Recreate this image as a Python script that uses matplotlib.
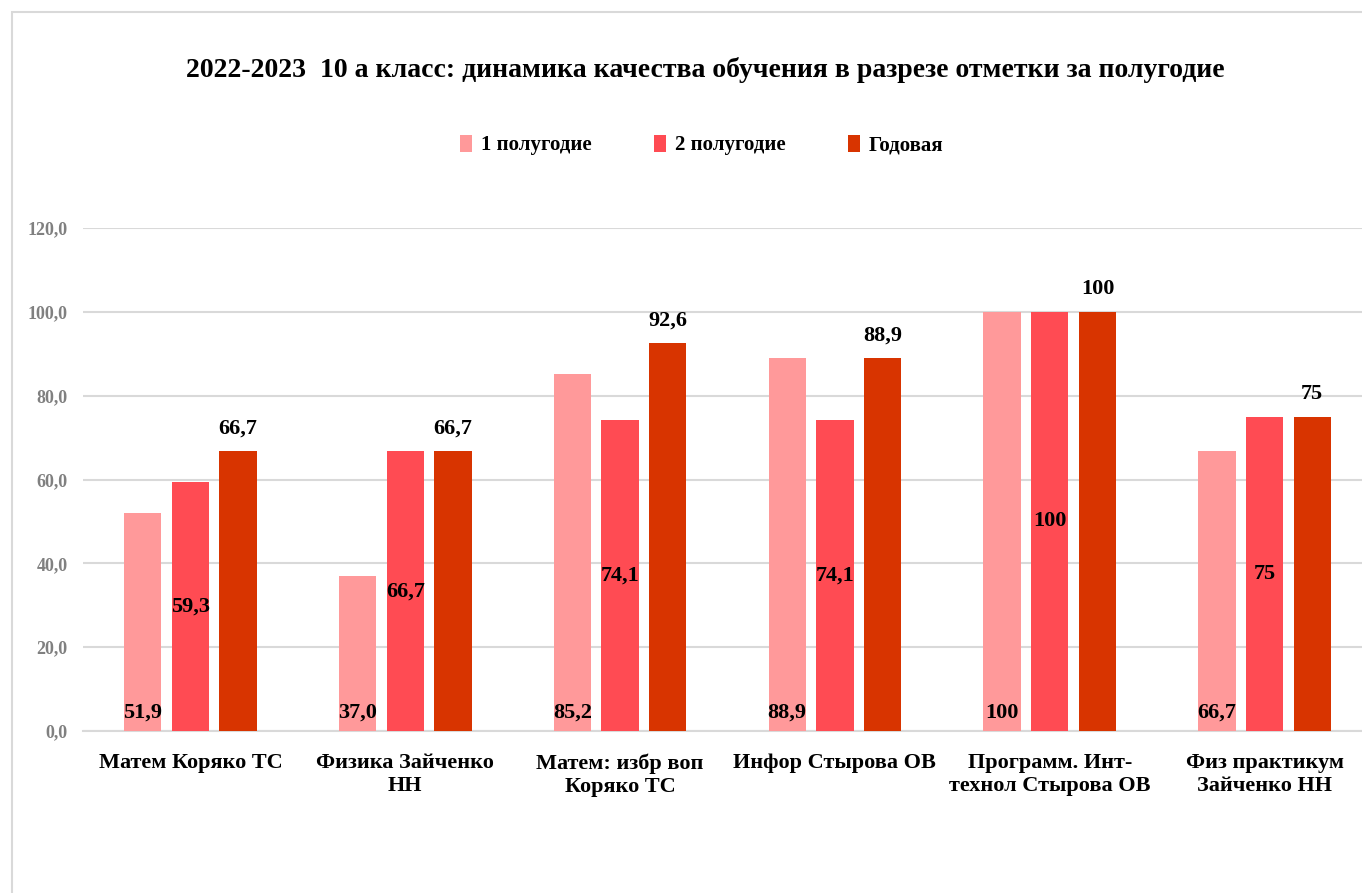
import matplotlib.pyplot as plt
import numpy as np
from matplotlib.patches import Rectangle

plt.rcParams['font.family'] = ['Liberation Serif', 'DejaVu Serif']

# Data
categories = ['Матем Коряко ТС', 'Физика Зайченко\nНН', 'Матем: избр воп\nКоряко ТС',
              'Инфор Стырова ОВ', 'Программ. Инт-\nтехнол Стырова ОВ', 'Физ практикум\nЗайченко НН']
sem1 = [51.9, 37.0, 85.2, 88.9, 100, 66.7]
sem2 = [59.3, 66.7, 74.1, 74.1, 100, 75]
year = [66.7, 66.7, 92.6, 88.9, 100, 75]
sem1_labels = ['51,9', '37,0', '85,2', '88,9', '100', '66,7']
sem2_labels = ['59,3', '66,7', '74,1', '74,1', '100', '75']
year_labels = ['66,7', '66,7', '92,6', '88,9', '100', '75']
series_names = ['1 полугодие', '2 полугодие', 'Годовая']
colors = ['#FF999A', '#FF4B53', '#D83400']

fig = plt.figure(figsize=(13.62, 8.93), dpi=100)
# outer chart frame
fig.patches.append(Rectangle((12 / 1362, -0.1), 1.2, 1 - 12 / 893 + 0.1, transform=fig.transFigure,
                             fill=False, edgecolor='#D9D9D9', linewidth=1.5))

ax = fig.add_axes([83 / 1362, 1 - 731 / 893, 1289 / 1362, (731 - 228) / 893])

x = np.arange(len(categories))
w = 0.174
step = 0.222
b1 = ax.bar(x - step, sem1, w, color=colors[0], label=series_names[0], zorder=3)
b2 = ax.bar(x, sem2, w, color=colors[1], label=series_names[1], zorder=3)
b3 = ax.bar(x + step, year, w, color=colors[2], label=series_names[2], zorder=3)

lab_font = dict(fontsize=16, fontweight='bold', color='black', ha='center', zorder=4)
for xi, v, s in zip(x, sem1, sem1_labels):
    ax.text(xi - step, 2, s, va='bottom', **lab_font)
for xi, v, s in zip(x, sem2, sem2_labels):
    ax.text(xi, v / 2, s, va='center', **lab_font)
for xi, v, s in zip(x, year, year_labels):
    ax.text(xi + step, v + 3, s, va='bottom', **lab_font)

ax.set_ylim(0, 120)
ax.set_xlim(-0.5, len(categories) - 0.5)
ax.set_yticks(np.arange(0, 121, 20))
ax.set_yticklabels([f'{t:.1f}'.replace('.', ',') for t in np.arange(0, 121, 20)],
                   color='#808080', fontsize=13, fontweight='bold')
ax.set_xticks(x)
ax.set_xticklabels(categories, fontsize=16, fontweight='bold')
ax.tick_params(axis='both', length=0)
ax.tick_params(axis='x', pad=16)
ax.tick_params(axis='y', pad=11)
ax.grid(axis='y', color='#D9D9D9', linewidth=1.5, zorder=0)
for sp in ['top', 'right', 'left']:
    ax.spines[sp].set_visible(False)
ax.spines['bottom'].set_color('#D9D9D9')
ax.spines['bottom'].set_linewidth(1.5)

fig.text(0.518, 1 - 70 / 893, '2022-2023  10 а класс: динамика качества обучения в разрезе отметки за полугодие',
         ha='center', va='center', fontsize=20, fontweight='bold')
fig.legend(handles=[b1, b2, b3], loc='center', bbox_to_anchor=(0.515, 1 - 145 / 893), ncol=3,
           frameon=False, prop={'weight': 'bold', 'size': 15}, handlelength=0.6,
           handleheight=0.9, handletextpad=0.4, columnspacing=3.0)

fig.savefig('out.png', dpi=100, facecolor='white')
